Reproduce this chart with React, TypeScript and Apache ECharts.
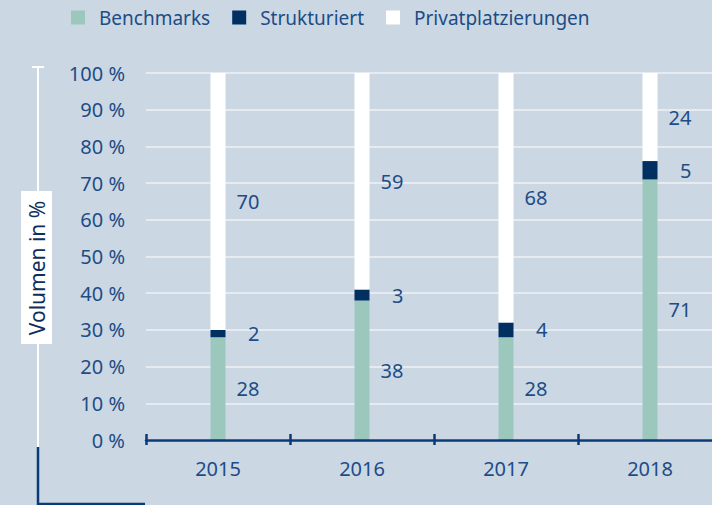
import React, { useEffect, useRef } from "react";
import * as echarts from "echarts";

const categories = ["2015", "2016", "2017", "2018"];
const benchmarks = [28, 38, 28, 71];
const strukturiert = [2, 3, 4, 5];
const privat = [70, 59, 68, 24];
const yTicks = { min: 0, max: 100, interval: 10 };

const TEXT = "#1d4c86";
const DARK = "#0b3a78";
const FONT = "Noto Sans";

export default function App() {
  const ref = useRef<HTMLDivElement>(null);
  useEffect(() => {
    if (!ref.current) return;
    const chart = echarts.init(ref.current, undefined, { renderer: "svg" });
    const label = {
      show: true,
      position: "right" as const,
      align: "right" as const,
      distance: 34,
      color: TEXT,
      fontSize: 20,
      fontFamily: FONT,
    };
    const mk = (name: string, data: number[], color: string) => ({
      name,
      type: "bar",
      stack: "total",
      barWidth: 15,
      data,
      itemStyle: { color },
      label,
      emphasis: { disabled: true },
    });
    chart.setOption({
      animation: false,
      backgroundColor: "#cbd8e4",
      textStyle: { fontFamily: FONT },
      legend: {
        left: 66,
        top: 3,
        itemWidth: 14,
        itemHeight: 14,
        itemGap: 22,
        icon: "rect",
        textStyle: { color: TEXT, fontSize: 19, fontFamily: FONT, padding: [0, 0, 0, 9] },
        data: ["Benchmarks", "Strukturiert", "Privatplatzierungen"],
      },
      grid: { left: 146, top: 73, bottom: 65, right: 0, containLabel: false },
      xAxis: [
        {
          type: "category",
          data: categories,
          axisLine: { show: true, lineStyle: { color: DARK, width: 2.5 } },
          axisTick: { show: true, length: 5, lineStyle: { color: DARK, width: 2.5 } },
          axisLabel: { color: TEXT, fontSize: 20, fontFamily: FONT, margin: 18 },
          z: 5,
        },
        {
          type: "category",
          data: categories,
          position: "bottom",
          axisLine: { show: false },
          axisTick: { show: true, inside: true, length: 6, lineStyle: { color: DARK, width: 2.5 } },
          axisLabel: { show: false },
          z: 5,
        },
      ],
      yAxis: {
        type: "value",
        min: yTicks.min,
        max: yTicks.max,
        interval: yTicks.interval,
        axisLine: { show: false },
        axisTick: { show: false },
        axisLabel: {
          color: TEXT,
          fontSize: 20,
          fontFamily: FONT,
          margin: 21,
          formatter: "{value} %",
        },
        splitLine: { show: true, lineStyle: { color: "#eef2f6", width: 1.5 } },
      },
      series: [
        mk("Benchmarks", benchmarks, "#9bc7bd"),
        mk("Strukturiert", strukturiert, "#002f62"),
        mk("Privatplatzierungen", privat, "#ffffff"),
      ],
      graphic: [
        { type: "line", shape: { x1: 38, y1: 66, x2: 38, y2: 447 }, style: { stroke: "#ffffff", lineWidth: 2 } },
        { type: "line", shape: { x1: 32, y1: 67, x2: 44, y2: 67 }, style: { stroke: "#ffffff", lineWidth: 2 } },
        {
          type: "polyline",
          shape: { points: [[38, 447], [38, 504], [145, 504]] },
          style: { stroke: DARK, lineWidth: 2.5, fill: "none" },
        },
        { type: "rect", shape: { x: 21, y: 191, width: 31, height: 153 }, style: { fill: "#ffffff" } },
        {
          type: "text",
          x: 37,
          y: 268,
          rotation: Math.PI / 2,
          style: {
            text: "Volumen in %",
            fill: "#0d2f5c",
            fontSize: 21,
            fontFamily: FONT,
            align: "center",
            verticalAlign: "middle",
          },
        },
      ],
    });
    return () => chart.dispose();
  }, []);
  return (
    <div style={{ position: "absolute", left: 0, top: 0, width: 712, height: 505, overflow: "hidden" }}>
      <div ref={ref} style={{ width: 722, height: 505 }} />
    </div>
  );
}
